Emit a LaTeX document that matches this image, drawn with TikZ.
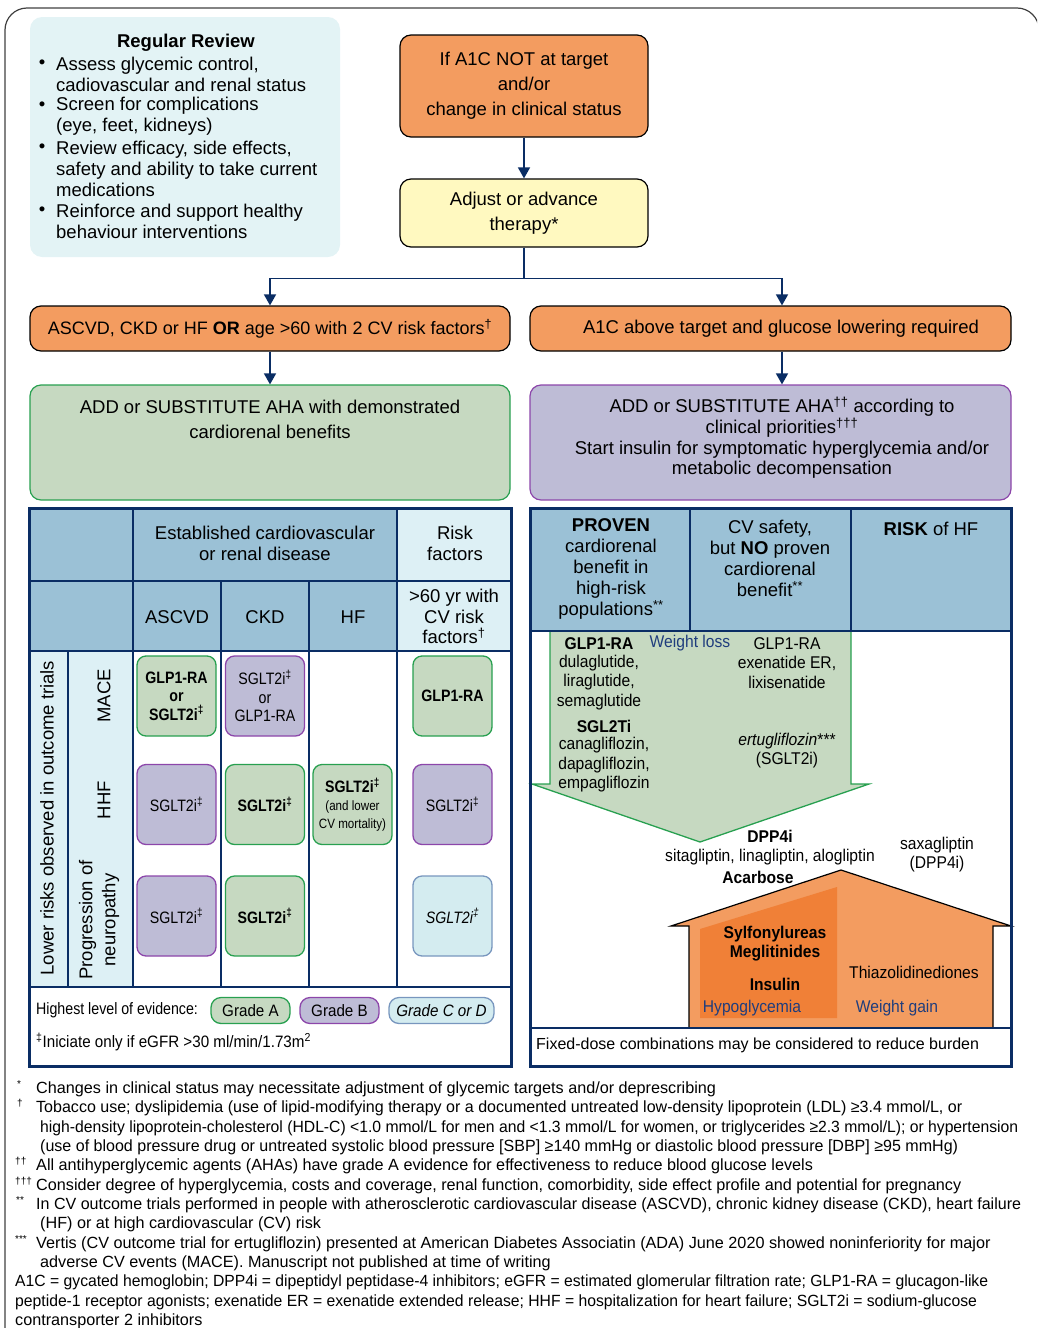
\documentclass[tikz,border=0pt]{standalone}
\usepackage{fontspec}
\setmainfont{Liberation Sans}
\newfontfamily\condA{Liberation Sans}[FakeStretch=0.86]
\newfontfamily\condB{Liberation Sans}[FakeStretch=0.92]
\newfontfamily\condF{Liberation Sans}[FakeStretch=0.97]
\newfontfamily\condG{Liberation Sans}[FakeStretch=0.99]
\usetikzlibrary{arrows.meta}
\definecolor{navy}{RGB}{10,45,100}
\definecolor{orfill}{RGB}{243,156,96}
\definecolor{yefill}{RGB}{255,249,192}
\definecolor{rrfill}{RGB}{227,243,245}
\definecolor{gfill}{RGB}{198,217,193}
\definecolor{gline}{RGB}{40,160,80}
\definecolor{pfill}{RGB}{190,188,214}
\definecolor{pline}{RGB}{140,70,170}
\definecolor{hblue}{RGB}{155,193,214}
\definecolor{lcyan}{RGB}{221,240,245}
\definecolor{cfill}{RGB}{212,236,240}
\definecolor{cline}{RGB}{120,150,190}
\definecolor{dorange}{RGB}{240,128,55}
\definecolor{btext}{RGB}{31,61,125}
\newcommand\fsz[2]{\fontsize{#1pt}{#2pt}\selectfont}
\newcommand\dg{\textsuperscript{†}}
\newcommand\ddg{\textsuperscript{‡}}
\tikzset{
  txt/.style={inner sep=0pt, align=center, font=\fsz{18.5}{21}},
  ftxt/.style={inner sep=0pt, anchor=base west, font=\fsz{16.2}{19}},
  fmark/.style={inner sep=0pt, anchor=base west, font=\fsz{10}{12}},
  flowbox/.style={draw=black, line width=1.2pt, rounded corners=11pt, inner sep=0pt},
  arr/.style={draw=navy, line width=1.6pt, -{Triangle[width=12pt,length=11pt]}},
  cellbox/.style={rounded corners=9pt, line width=1.3pt, minimum width=79pt, minimum height=80pt, inner sep=0pt, align=center, font=\condA\fsz{16.5}{18.5}},
  gbox/.style={cellbox, fill=gfill, draw=gline},
  pbox/.style={cellbox, fill=pfill, draw=pline},
  cbox/.style={cellbox, fill=cfill, draw=cline},
  gradebox/.style={rounded corners=10pt, line width=1.3pt, minimum height=26pt, inner sep=0pt, font=\condB\fsz{16.5}{18}},
  tline/.style={draw=navy, line width=1.5pt},
  tborder/.style={draw=navy, line width=3pt},
  atxt/.style={inner sep=0pt, align=center, font=\condB\fsz{17}{19.5}},
}
\begin{document}
\begin{tikzpicture}[x=1pt,y=-1pt]
\useasboundingbox (0,0) rectangle (1037,1328);
\begin{scope}
\clip (0,0) rectangle (1037,1328);
\draw[line width=1.2pt, black!75, rounded corners=22pt] (5,8) rectangle (1039,1370);
\end{scope}

% ---------- Regular review ----------
\node[fill=rrfill, rounded corners=12pt, minimum width=310pt, minimum height=240pt, inner sep=0pt] (rr) at (185,137) {};
\node[txt] (rrt) at (186,43) {\textbf{Regular Review}};
\node[txt] (b1) at (42,64) {•};
\node[txt] (b2) at (42,106) {•};
\node[txt] (b3) at (42,148) {•};
\node[txt] (b4) at (42,211) {•};
\node[txt, anchor=west, align=left] (r1) at (56,74.5) {Assess glycemic control,\\cadiovascular and renal status};
\node[txt, anchor=west, align=left] (r2) at (56,116.5) {Screen for complications\\(eye, feet, kidneys)};
\node[txt, anchor=west, align=left] (r3) at (56,169) {Review efficacy, side effects,\\safety and ability to take current\\medications};
\node[txt, anchor=west, align=left] (r4) at (56,221.5) {Reinforce and support healthy\\behaviour interventions};

% ---------- Flow ----------
\node[flowbox, fill=orfill, minimum width=248pt, minimum height=102pt, align=center, font=\fsz{18.5}{25}] (q) at (524,86) {If A1C NOT at target\\and/or\\change in clinical status};
\node[flowbox, fill=yefill, minimum width=248pt, minimum height=68pt, align=center, font=\fsz{18.5}{25}] (adj) at (524,213) {Adjust or advance\\therapy*};
\node[flowbox, fill=orfill, minimum width=480pt, minimum height=45pt, font=\fsz{18}{21}] (lo) at (270,328.5) {ASCVD, CKD or HF \textbf{OR} age >60 with 2 CV risk factors\dg};
\node[flowbox, fill=orfill, minimum width=481pt, minimum height=45pt] (ro) at (770.5,328.5) {};
\node[txt] (rot) at (781,328.5) {A1C above target and glucose lowering required};
\node[flowbox, draw=gline, fill=gfill, minimum width=480pt, minimum height=115pt] (gb) at (270,442.5) {};
\node[txt, font=\fsz{18.5}{25}] (gbt) at (270,419.5) {ADD or SUBSTITUTE AHA with demonstrated\\cardiorenal benefits};
\node[flowbox, draw=pline, fill=pfill, minimum width=481pt, minimum height=115pt] (pb) at (770.5,442.5) {};
\node[txt, font=\fsz{18.5}{20.7}] (pbt) at (782,438) {ADD or SUBSTITUTE AHA\textsuperscript{††} according to\\clinical priorities\textsuperscript{†††}\\Start insulin for symptomatic hyperglycemia and/or\\metabolic decompensation};

\draw[arr] (q.south) -- (adj.north);
\draw[navy, line width=1.6pt] (adj.south) -- ++(0,31) coordinate (split);
\draw[arr] (split) -| (lo.north);
\draw[arr] (split) -| ([xshift=11.5pt]ro.north);
\draw[arr] (lo.south) -- (gb.north);
\draw[arr] ([xshift=11.5pt]ro.south) -- ([xshift=11.5pt]pb.north);

% ---------- Left table ----------
\fill[hblue] (29,508) rectangle (397,651);
\fill[lcyan] (397,508) rectangle (511,651);
\fill[lcyan] (29,651) rectangle (133,987);
\draw[tline] (29,581) -- (511,581);
\draw[tline] (29,651) -- (511,651);
\draw[tline] (29,987) -- (511,987);
\draw[tline] (133,508) -- (133,987);
\draw[tline] (397,508) -- (397,987);
\draw[tline] (221,581) -- (221,987);
\draw[tline] (309,581) -- (309,987);
\draw[tline] (68,651) -- (68,987);

\node[txt, font=\fsz{18.5}{21}] (h1) at (265,543.5) {Established cardiovascular\\or renal disease};
\node[txt, font=\fsz{18.5}{21}] (h2) at (455,543.5) {Risk\\factors};
\node[txt] (h3) at (177,617) {ASCVD};
\node[txt] (h4) at (265,617) {CKD};
\node[txt] (h5) at (353,617) {HF};
\node[txt, font=\fsz{18.5}{20.5}] (h6) at (454,616.5) {>60 yr with\\CV risk\\factors\dg};

\node[txt, rotate=90] (lr) at (47,818) {Lower risks observed in outcome trials};
\node[txt, rotate=90] (mace) at (104,696) {MACE};
\node[txt, rotate=90] (hhf) at (104,800) {HHF};
\node[txt, rotate=90, font=\fsz{18.5}{23}] (prog) at (99,920) {Progression of\\neuropathy};

\node[gbox] (c11) at (176.5,696) {\textbf{GLP1-RA}\\\textbf{or}\\\textbf{SGLT2i\ddg}};
\node[pbox] (c12) at (265,696) {SGLT2i\ddg\\or\\GLP1-RA};
\node[gbox] (c14) at (452.5,696) {\textbf{GLP1-RA}};
\node[pbox] (c21) at (176.5,804.5) {SGLT2i\ddg};
\node[gbox] (c22) at (265,804.5) {\textbf{SGLT2i\ddg}};
\node[gbox, font=\condA\fsz{13.5}{18}] (c23) at (352.5,804.5) {{\fsz{16.5}{18}\textbf{SGLT2i\ddg}}\\(and lower\\CV mortality)};
\node[pbox] (c24) at (452.5,804.5) {SGLT2i\ddg};
\node[pbox] (c31) at (176.5,916) {SGLT2i\ddg};
\node[gbox] (c32) at (265,916) {\textbf{SGLT2i\ddg}};
\node[cbox] (c34) at (452.5,916) {\textit{SGLT2i\ddg}};

\node[inner sep=0pt, anchor=west, font=\condA\fsz{16.5}{18}] (hl) at (36,1010.5) {Highest level of evidence:};
\node[gradebox, fill=gfill, draw=gline, minimum width=79pt] (ga) at (250.5,1010.5) {Grade A};
\node[gradebox, fill=pfill, draw=pline, minimum width=79pt] (gbb) at (339.5,1010.5) {Grade B};
\node[gradebox, fill=cfill, draw=cline, minimum width=105pt] (gc) at (441.5,1010.5) {\textit{Grade C or D}};
\node[inner sep=0pt, anchor=west, font=\condB\fsz{16.5}{18}] (egfr) at (36,1042) {\ddg Iniciate only if eGFR >30 ml/min/1.73m\textsuperscript{2}};
\draw[tborder] (29,508) rectangle (511,1066);

% ---------- Right table ----------
\fill[hblue] (530,508) rectangle (1011,631);
\fill[gfill] (550,631) -- (550,784) -- (532,784) -- (700,842) -- (869,784) -- (851,784) -- (851,631) -- cycle;
\draw[gline, line width=1.3pt] (550,631) -- (550,784) -- (532,784) -- (700,842) -- (869,784) -- (851,784) -- (851,631);

\fill[orfill] (671,926) -- (841,870) -- (1011,926) -- (993,926) -- (993,1028) -- (689,1028) -- (689,926) -- cycle;
\fill[dorange] (700,929) -- (837,887) -- (837,1018) -- (700,1018) -- cycle;
\draw[black, line width=1.2pt] (689,1028) -- (689,926) -- (671,926) -- (841,870) -- (1011,926) -- (993,926) -- (993,1028);

\draw[tline] (690,508) -- (690,631);
\draw[tline] (851,508) -- (851,631);
\draw[tline] (530,631) -- (1011,631);
\draw[tline] (530,1028) -- (1011,1028);

\node[txt, font=\fsz{18.5}{21}] (p1) at (611,569) {\textbf{PROVEN}\\cardiorenal\\benefit in\\high-risk\\populations\textsuperscript{**}};
\node[txt, font=\fsz{18.5}{21}] (p2) at (770,558.5) {CV safety,\\but \textbf{NO} proven\\cardiorenal\\benefit\textsuperscript{**}};
\node[txt] (p3) at (931,529) {\textbf{RISK} of HF};

\node[atxt] (a1) at (599,644) {\textbf{GLP1-RA}};
\node[atxt] (a2) at (599,682.5) {dulaglutide,\\liraglutide,\\semaglutide};
\node[atxt] (a3) at (604,726) {\textbf{SGL2Ti}};
\node[atxt] (a4) at (604,765) {canagliflozin,\\dapagliflozin,\\empagliflozin};
\node[atxt, text=btext] (a5) at (690,643) {Weight loss};
\node[atxt] (a6) at (787,663) {GLP1-RA\\exenatide ER,\\lixisenatide};
\node[atxt] (a7) at (787,750.5) {\textit{ertugliflozin}***\\(SGLT2i)};
\node[atxt] (d1) at (770,836) {\textbf{DPP4i}};
\node[atxt] (d2) at (770,857) {sitagliptin, linagliptin, alogliptin};
\node[atxt] (d3) at (758,877) {\textbf{Acarbose}};
\node[atxt] (d4) at (937,854.5) {saxagliptin\\(DPP4i)};
\node[atxt] (s1) at (775,943.5) {\textbf{Sylfonylureas}\\\textbf{Meglitinides}};
\node[atxt] (s2) at (775,984) {\textbf{Insulin}};
\node[atxt, text=btext] (s3) at (752,1008) {Hypoglycemia};
\node[atxt] (s4) at (914,972) {Thiazolidinediones};
\node[atxt, text=btext] (s5) at (897,1008) {Weight gain};
\node[inner sep=0pt, anchor=west, font=\fsz{16}{18}] (fx) at (536,1045) {Fixed-dose combinations may be considered to reduce burden};
\draw[tborder] (530,508) rectangle (1011,1066);

% ---------- Footnotes ----------
\node[fmark] (m1) at (17,1087) {*};
\node[ftxt] (f1) at (36,1093) {Changes in clinical status may necessitate adjustment of glycemic targets and/or deprescribing};
\node[fmark] (m2) at (17,1106) {†};
\node[ftxt, font=\condG\fsz{16.2}{19}] (f2) at (36,1112) {Tobacco use; dyslipidemia (use of lipid-modifying therapy or a documented untreated low-density lipoprotein (LDL) ≥3.4 mmol/L, or};
\node[ftxt, font=\condF\fsz{16.2}{19}] (f3) at (40,1132) {high-density lipoprotein-cholesterol (HDL-C) <1.0 mmol/L for men and <1.3 mmol/L for women, or triglycerides ≥2.3 mmol/L); or hypertension};
\node[ftxt, font=\condG\fsz{16.2}{19}] (f4) at (40,1151) {(use of blood pressure drug or untreated systolic blood pressure [SBP] ≥140 mmHg or diastolic blood pressure [DBP] ≥95 mmHg)};
\node[fmark] (m5) at (15,1164) {††};
\node[ftxt] (f5) at (36,1170) {All antihyperglycemic agents (AHAs) have grade A evidence for effectiveness to reduce blood glucose levels};
\node[fmark] (m6) at (15,1184) {†††};
\node[ftxt] (f6) at (36,1190) {Consider degree of hyperglycemia, costs and coverage, renal function, comorbidity, side effect profile and potential for pregnancy};
\node[fmark] (m7) at (16,1203) {**};
\node[ftxt, font=\condG\fsz{16.2}{19}] (f7) at (36,1209) {In CV outcome trials performed in people with atherosclerotic cardiovascular disease (ASCVD), chronic kidney disease (CKD), heart failure};
\node[ftxt] (f8) at (40,1228) {(HF) or at high cardiovascular (CV) risk};
\node[fmark] (m9) at (15,1242) {***};
\node[ftxt] (f9) at (36,1248) {Vertis (CV outcome trial for ertugliflozin) presented at American Diabetes Associatin (ADA) June 2020 showed noninferiority for major};
\node[ftxt] (f10) at (40,1267) {adverse CV events (MACE). Manuscript not published at time of writing};
\node[ftxt, font=\condF\fsz{16.2}{19}] (f11) at (15,1286) {A1C = gycated hemoglobin; DPP4i = dipeptidyl peptidase-4 inhibitors; eGFR = estimated glomerular filtration rate; GLP1-RA = glucagon-like};
\node[ftxt, font=\condF\fsz{16.2}{19}] (f12) at (15,1306) {peptide-1 receptor agonists; exenatide ER = exenatide extended release; HHF = hospitalization for heart failure; SGLT2i = sodium-glucose};
\node[ftxt] (f13) at (15,1325) {contransporter 2 inhibitors};
\end{tikzpicture}
\end{document}
